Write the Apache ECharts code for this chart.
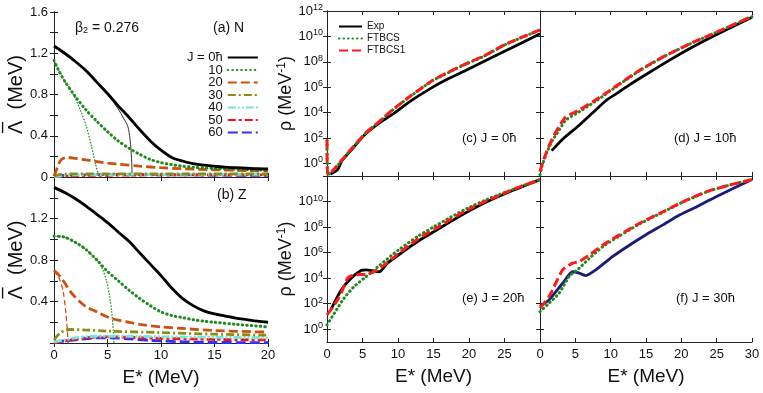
<!DOCTYPE html>
<html lang="en">
<head>
<meta charset="UTF-8">
<title>Pairing gaps and level density</title>
<style>
  html, body { margin: 0; padding: 0; background: #fff; }
  #chart { width: 763px; height: 393px; }
</style>
</head>
<body>
<div id="chart"></div>

<script src="https://cdn.jsdelivr.net/npm/echarts@6/dist/echarts.min.js"></script>
<script>
    // ---- (a) neutron gap, E* in MeV
    var aX = [0,1,2,3,4,5,6,7,8,9,10,11,12,13,14,15,16,17,18,19,20];
    var aJ0 = [1.27,1.2,1.12,1.03,0.92,0.81,0.69,0.58,0.46,0.35,0.26,0.19,0.155,0.13,0.115,0.105,0.095,0.09,0.085,0.08,0.078];
    var aJ0thinX = [0,1,2,3,4,5,6,6.5,6.9,7.1,7.2,7.28,7.3];
    var aJ0thin = [1.27,1.2,1.12,1.03,0.92,0.8,0.66,0.57,0.49,0.37,0.26,0.1,0];
    var aJ10X = [0,0.5,1,2,3,4,5,6,7,8,9,10,11,12,13,14,15,17,20];
    var aJ10 = [1.13,1.02,0.93,0.78,0.65,0.54,0.44,0.35,0.28,0.22,0.17,0.14,0.12,0.105,0.095,0.088,0.082,0.075,0.065];
    var aJ10thinX = [0,1,1.5,2,2.5,3,3.5,3.9,4.2];
    var aJ10thin = [1.13,0.93,0.85,0.76,0.64,0.5,0.3,0.12,0];
    var aJ20X = [0,0.2,0.4,0.7,1.2,2,3,4,5,6,8,10,12,15,18,20];
    var aJ20 = [0.01,0.06,0.12,0.17,0.19,0.18,0.165,0.15,0.135,0.125,0.105,0.09,0.08,0.07,0.062,0.058];
    var aJ30X = [0,1,5,10,15,20];
    var aJ30 = [0.01,0.03,0.03,0.03,0.03,0.03];
    var aJ40X = [0,2,10,20];
    var aJ40 = [0.005,0.02,0.025,0.025];
    var aJ50X = [0,3,10,20];
    var aJ50 = [0.005,0.015,0.02,0.02];
    var aJ60X = [0,2,6,10,20];
    var aJ60 = [0.01,0.02,0.025,0.022,0.015];

    // ---- (b) proton gap
    var bJ0 = [1.5,1.45,1.39,1.32,1.24,1.16,1.07,0.98,0.87,0.76,0.65,0.53,0.43,0.36,0.31,0.28,0.26,0.24,0.225,0.21,0.2];
    var bJ10X = [0,1,2,3,4,5,6,7,8,9,10,11,12,13,14,15,17,20];
    var bJ10 = [1.03,1.02,0.97,0.9,0.8,0.69,0.6,0.51,0.43,0.36,0.3,0.265,0.245,0.225,0.21,0.2,0.18,0.155];
    var bJ10thinX = [0,1,2,3,4,4.5,4.9,5.2,5.4,5.55,5.6];
    var bJ10thin = [1.03,1.02,0.97,0.9,0.8,0.72,0.6,0.45,0.3,0.1,0];
    var bJ20X = [0,0.5,1,1.5,2,2.5,3,4,5,6,7,8,10,12,15,20];
    var bJ20 = [0.7,0.65,0.58,0.5,0.44,0.39,0.35,0.3,0.25,0.22,0.2,0.18,0.155,0.14,0.12,0.105];
    var bJ20thinX = [0,0.5,0.85,1.1,1.25,1.3];
    var bJ20thin = [0.7,0.62,0.5,0.3,0.12,0];
    var bJ30X = [0,0.5,1,1.5,3,5,10,15,20];
    var bJ30 = [0.03,0.09,0.12,0.13,0.125,0.115,0.1,0.085,0.075];
    var bJ40X = [0,1,2,4,6,10,15,20];
    var bJ40 = [0.01,0.03,0.05,0.065,0.065,0.06,0.055,0.05];
    var bJ50X = [0,1,3,5,7,10,15,20];
    var bJ50 = [0,0.02,0.05,0.06,0.055,0.045,0.035,0.03];
    var bJ60X = [0,2,4,5.5,7,9,12,15,20];
    var bJ60 = [0.01,0.03,0.05,0.05,0.04,0.025,0.012,0.006,0.003];

    // ---- level density, stored as log10(rho / MeV^-1)
    var cExpX = [0.5,1.5,2.1,3.5,5.4,7.3,9.2,11.6,14.9,17.2,19.6,22,25.3,30];
    var cExp = [-0.85,-0.5,0.2,1.1,2.3,3.15,3.85,4.84,6.0,6.7,7.33,8.0,8.9,10.2];
    var cFitX = [0,0.1,0.7,2.1,3.5,5.4,7.3,9.2,11.6,14.9,17.2,19.6,22,25.3,30];
    var cFt = [1.8,-0.9,-0.66,0.24,1.16,2.34,3.25,4.18,5.22,6.52,7.18,7.83,8.41,9.4,10.5];
    var cFt1 = [1.83,-0.9,-0.65,0.26,1.18,2.36,3.27,4.2,5.24,6.54,7.2,7.85,8.43,9.42,10.52];

    var dExpX = [1.66,3.2,5.55,7.5,9.35,11,12.7,15,18.4,21.2,25,30];
    var dExp = [1.0,1.9,3.0,4.0,4.95,5.55,6.2,7.0,8.15,9.05,10.15,11.5];
    var dFtX = [0,0.3,1,1.76,2.7,3.65,5.55,7.9,10.3,14.1,17.4,21.2,25,30];
    var dFt = [-0.9,-0.2,0.9,1.8,2.6,3.4,4.06,4.9,5.85,7.3,8.36,9.4,10.33,11.56];
    var dFt1X = [0,0.33,1,1.76,2.7,3.65,5.55,7.9,10.3,14.1,17.4,21.2,25,30];
    var dFt1 = [-0.65,0,1.0,1.96,2.9,3.66,4.2,5.0,5.9,7.33,8.38,9.42,10.34,11.57];

    var eExpX = [0.6,2,3.4,4.8,5.5,6.2,7.4,8.5,10.4,12.75,15.1,17.4,19.8,22.6,26.3,30];
    var eExp = [1.6,3.08,4.0,4.6,4.65,4.6,4.5,5.17,5.95,6.87,7.65,8.43,9.2,10.0,10.9,11.72];
    var eFtX = [0,1.03,2.4,3.8,5.25,7.1,9,10.4,12.75,15.1,17.4,19.8,22.6,26.3,30];
    var eFt = [0.34,1.25,2.43,3.34,4.0,4.86,5.74,6.34,7.26,8.04,8.77,9.48,10.18,10.97,11.72];
    var eFt1X = [0,1.03,2,2.9,3.8,5.7,7.1,8.5,10.4,12.75,15.1,17.4,19.8,22.6,26.3,30];
    var eFt1 = [1.12,1.9,2.82,4.0,4.26,4.3,4.65,5.22,6.08,7.05,7.83,8.6,9.35,10.08,10.97,11.72];

    var fExpX = [0,1.28,3.2,4.6,5.55,6.5,7.9,10.3,12.7,15,17.4,19.8,22.2,25,30];
    var fExp = [1.78,2.3,3.6,4.5,4.39,4.2,4.65,5.7,6.6,7.4,8.17,8.96,9.6,10.4,11.72];
    var fFtX = [0,1.28,2.7,4.13,5.55,7,8.9,11.25,14.1,17.4,20.3,23.6,26.9,30];
    var fFt = [1.38,2.04,2.82,4.13,4.78,5.56,6.47,7.31,8.25,9.17,9.98,10.76,11.3,11.72];
    var fFt1X = [0,1.28,2.23,3.2,4.6,5.55,7,8.9,11.25,14.1,17.4,20.3,23.6,26.9,30];
    var fFt1 = [1.65,2.56,3.6,4.65,5.17,5.3,5.82,6.6,7.39,8.3,9.2,10,10.78,11.3,11.72];

    var jNames = ['J = 0ħ', '10', '20', '30', '40', '50', '60'];
    var rhoNames = ['Exp', 'FTBCS', 'FTBCS1'];
    var rhoTicks = [1, 1e2, 1e4, 1e6, 1e8, 1e10, 1e12];

    var FONT = '"Liberation Sans", Arial, sans-serif';

    function pts(xs, ys) {
        return xs.map(function (x, i) { return [x, ys[i]]; });
    }
    function rho(xs, lg) {
        return xs.map(function (x, i) { return [x, Math.pow(10, lg[i])]; });
    }

    var ST = {
        j0:   { color: '#000000', width: 2.8, type: 'solid' },
        thin: { color: '#333333', width: 1, type: 'solid' },
        j10:  { color: '#1e8a1e', width: 3, type: [0.5, 4], cap: 'round' },
        j10t: { color: '#1e8a1e', width: 1.3, type: [0.5, 2.5], cap: 'round' },
        j20:  { color: '#cc5010', width: 2.8, type: [9, 4] },
        j20t: { color: '#cc5010', width: 1.3, type: [5, 3] },
        j30:  { color: '#8c8c14', width: 2.8, type: [8, 3, 2, 3] },
        j40:  { color: '#70e8d8', width: 2.8, type: [8, 2, 2, 2, 2, 2] },
        j50:  { color: '#ff1010', width: 2.8, type: [8, 3, 3, 3] },
        j60:  { color: '#3030ff', width: 2.8, type: [10, 4] },
        exp:  { color: '#000000', width: 2.8, type: 'solid' },
        expN: { color: '#1c1c78', width: 2.8, type: 'solid' },
        ft:   { color: '#1e8a1e', width: 3, type: [0.5, 4], cap: 'round' },
        ft1:  { color: '#ff1a1a', width: 3, type: [9, 4] }
    };

    function mk(name, idx, data, st, smooth) {
        return {
            type: 'line', name: name, xAxisIndex: idx, yAxisIndex: idx,
            data: data, symbol: 'none', showSymbol: false,
            smooth: smooth === undefined ? 0.3 : smooth,
            lineStyle: { color: st.color, width: st.width, type: st.type, cap: st.cap || 'butt' },
            itemStyle: { color: st.color },
            emphasis: { disabled: true },
            animation: false
        };
    }

    var series = [
        // (a)
        mk('thin0a', 0, pts(aJ0thinX, aJ0thin), ST.thin),
        mk('thin10a', 0, pts(aJ10thinX, aJ10thin), ST.j10t),
        mk('60', 0, pts(aJ60X, aJ60), ST.j60),
        mk('50', 0, pts(aJ50X, aJ50), ST.j50),
        mk('40', 0, pts(aJ40X, aJ40), ST.j40),
        mk('30', 0, pts(aJ30X, aJ30), ST.j30),
        mk('20', 0, pts(aJ20X, aJ20), ST.j20),
        mk('10', 0, pts(aJ10X, aJ10), ST.j10),
        mk('J = 0ħ', 0, pts(aX, aJ0), ST.j0),
        // (b)
        mk('thin10b', 1, pts(bJ10thinX, bJ10thin), ST.j10t),
        mk('thin20b', 1, pts(bJ20thinX, bJ20thin), ST.j20t),
        mk('60', 1, pts(bJ60X, bJ60), ST.j60),
        mk('50', 1, pts(bJ50X, bJ50), ST.j50),
        mk('40', 1, pts(bJ40X, bJ40), ST.j40),
        mk('30', 1, pts(bJ30X, bJ30), ST.j30),
        mk('20', 1, pts(bJ20X, bJ20), ST.j20),
        mk('10', 1, pts(bJ10X, bJ10), ST.j10),
        mk('J = 0ħ', 1, pts(aX, bJ0), ST.j0),
        // (c)
        mk('Exp', 2, rho(cExpX, cExp), ST.exp, 0.2),
        mk('FTBCS', 2, rho(cFitX, cFt), ST.ft, 0.2),
        mk('FTBCS1', 2, rho(cFitX, cFt1), ST.ft1, 0.2),
        // (d)
        mk('Exp', 3, rho(dExpX, dExp), ST.exp, 0.2),
        mk('FTBCS', 3, rho(dFtX, dFt), ST.ft, 0.2),
        mk('FTBCS1', 3, rho(dFt1X, dFt1), ST.ft1, 0.2),
        // (e)
        mk('Exp', 4, rho(eExpX, eExp), ST.exp, 0.2),
        mk('FTBCS', 4, rho(eFtX, eFt), ST.ft, 0.2),
        mk('FTBCS1', 4, rho(eFt1X, eFt1), ST.ft1, 0.2),
        // (f)
        mk('Exp', 5, rho(fExpX, fExp), ST.expN, 0.2),
        mk('FTBCS', 5, rho(fFtX, fFt), ST.ft, 0.2),
        mk('FTBCS1', 5, rho(fFt1X, fFt1), ST.ft1, 0.2)
    ];

    var grids = [
        { left: 54, top: 12, width: 214, height: 165 },
        { left: 54, top: 177, width: 214, height: 166 },
        { left: 327, top: 11, width: 213, height: 165 },
        { left: 540, top: 11, width: 212, height: 165 },
        { left: 327, top: 176, width: 213, height: 166 },
        { left: 540, top: 176, width: 212, height: 166 }
    ].map(function (gr) { gr.outerBoundsMode = 'none'; gr.containLabel = false; return gr; });

    var lineCol = '#222';
    var axLine = { show: true, lineStyle: { color: lineCol, width: 1 } };
    var axTick = { show: true, inside: true, length: 4, lineStyle: { color: lineCol } };
    var lbl = { fontSize: 13, color: '#111', fontFamily: FONT };
    var nameStyle = { fontSize: 19, color: '#111', fontFamily: FONT };

    var xMax = [20, 20, 30, 30, 30, 30];
    var xShow = [false, true, false, false, true, true];
    var xAxes = [];
    var yAxes = [];
    for (var g = 0; g < 6; g++) {
        xAxes.push({
            gridIndex: g, type: 'value', min: 0, max: xMax[g], interval: 5, position: 'bottom',
            axisLine: axLine, axisTick: axTick, splitLine: { show: false },
            axisLabel: Object.assign({ show: xShow[g], margin: 6, showMaxLabel: g !== 4 }, lbl),
            name: xShow[g] ? 'E* (MeV)' : '', nameLocation: 'middle', nameGap: 25,
            nameTextStyle: nameStyle
        });
    }
    for (g = 0; g < 6; g++) {
        xAxes.push({
            gridIndex: g, type: 'value', min: 0, max: xMax[g], interval: 5, position: 'top',
            axisLine: axLine, axisTick: axTick, splitLine: { show: false },
            axisLabel: { show: false }
        });
    }

    // the bar over Lambda is a second text line, padded so it sits over the first glyph
    var lambdaName = '{bar|–}\n{m|Λ  (MeV)}';
    function gapAxis(g, showEnds, pos) {
        return {
            gridIndex: g, type: 'value', min: 0, max: 1.6, interval: 0.4, position: pos,
            axisLine: axLine, axisTick: axTick, splitLine: { show: false },
            minorTick: { show: true, splitNumber: 2, length: 4, lineStyle: { color: lineCol } },
            axisLabel: Object.assign({ show: pos === 'left', margin: 6, showMinLabel: showEnds, showMaxLabel: showEnds }, lbl),
            name: pos === 'left' ? lambdaName : '', nameLocation: 'middle', nameGap: 24,
            nameTextStyle: {
                color: '#111', fontFamily: FONT, fontSize: 20,
                rich: {
                    bar: { fontSize: 20, fontFamily: FONT, color: '#111', lineHeight: 7, padding: [0, 66, 0, 0] },
                    m: { fontSize: 20, fontFamily: FONT, color: '#111', lineHeight: 20 }
                }
            }
        };
    }
    function rhoAxis(g, labels, pos, named) {
        return {
            gridIndex: g, type: 'log', logBase: 10, min: 0.1, max: 1e12, position: pos,
            axisLine: axLine,
            axisTick: Object.assign({ customValues: rhoTicks }, axTick),
            splitLine: { show: false },
            axisLabel: Object.assign({
                show: !!labels, margin: 4, customValues: labels || rhoTicks,
                formatter: function (v) {
                    return '10{s|' + Math.round(Math.log10(v)) + '}';
                },
                rich: { s: { fontSize: 9, fontFamily: FONT, color: '#111', verticalAlign: 'top', padding: [0, 0, 7, 0] } }
            }, lbl),
            name: named ? 'ρ (MeV{s|-1})' : '', nameLocation: 'middle', nameGap: 24,
            nameTextStyle: Object.assign({}, nameStyle, {
                fontSize: 18,
                rich: { s: { fontSize: 12, fontFamily: FONT, color: '#111', verticalAlign: 'top', padding: [0, 0, 8, 0] } }
            })
        };
    }

    yAxes.push(gapAxis(0, true, 'left'));
    yAxes.push(gapAxis(1, false, 'left'));
    yAxes.push(rhoAxis(2, rhoTicks, 'left', true));
    yAxes.push(rhoAxis(3, null, 'left', false));
    yAxes.push(rhoAxis(4, [1, 1e2, 1e4, 1e6, 1e8, 1e10], 'left', true));
    yAxes.push(rhoAxis(5, null, 'left', false));
    yAxes.push(gapAxis(0, true, 'right'));
    yAxes.push(gapAxis(1, false, 'right'));
    for (g = 2; g < 6; g++) yAxes.push(rhoAxis(g, null, 'right', false));

    function note(txt, x, y, size, rich) {
        return {
            type: 'text', x: x, y: y, silent: true,
            style: { text: txt, fill: '#111', font: size + 'px ' + FONT, verticalAlign: 'middle', rich: rich || {} }
        };
    }

    var chart = echarts.init(document.getElementById('chart'), null, { renderer: 'canvas' });
    chart.setOption({
        backgroundColor: '#ffffff',
        animation: false,
        textStyle: { fontFamily: FONT },
        grid: grids,
        xAxis: xAxes,
        yAxis: yAxes,
        legend: [{
            data: jNames, orient: 'vertical', left: 187, top: 51, align: 'right', padding: 0,
            itemWidth: 30, itemHeight: 8, itemGap: -0.5, selectedMode: false,
            itemStyle: { opacity: 0 },
            textStyle: { fontSize: 13, lineHeight: 11, color: '#111', fontFamily: FONT }
        }, {
            data: rhoNames, orient: 'vertical', left: 338, top: 21, padding: 0,
            itemWidth: 23, itemHeight: 8, itemGap: 1, selectedMode: false,
            itemStyle: { opacity: 0 },
            textStyle: { fontSize: 10, lineHeight: 11, color: '#111', fontFamily: FONT }
        }],
        graphic: [
            note('β{b|2} = 0.276', 75, 28, 14, { b: { fontSize: 9, fontFamily: FONT, fill: '#111', verticalAlign: 'bottom', padding: [6, 0, 0, 0] } }),
            note('(a) N', 213, 28, 14),
            note('(b) Z', 217, 195, 14),
            note('(c) J = 0ħ', 462, 138, 13),
            note('(d) J = 10ħ', 674, 138, 13),
            note('(e) J = 20ħ', 462, 298, 13),
            note('(f) J = 30ħ', 676, 298, 13)
        ],
        series: series
    });
</script>
</body>
</html>
